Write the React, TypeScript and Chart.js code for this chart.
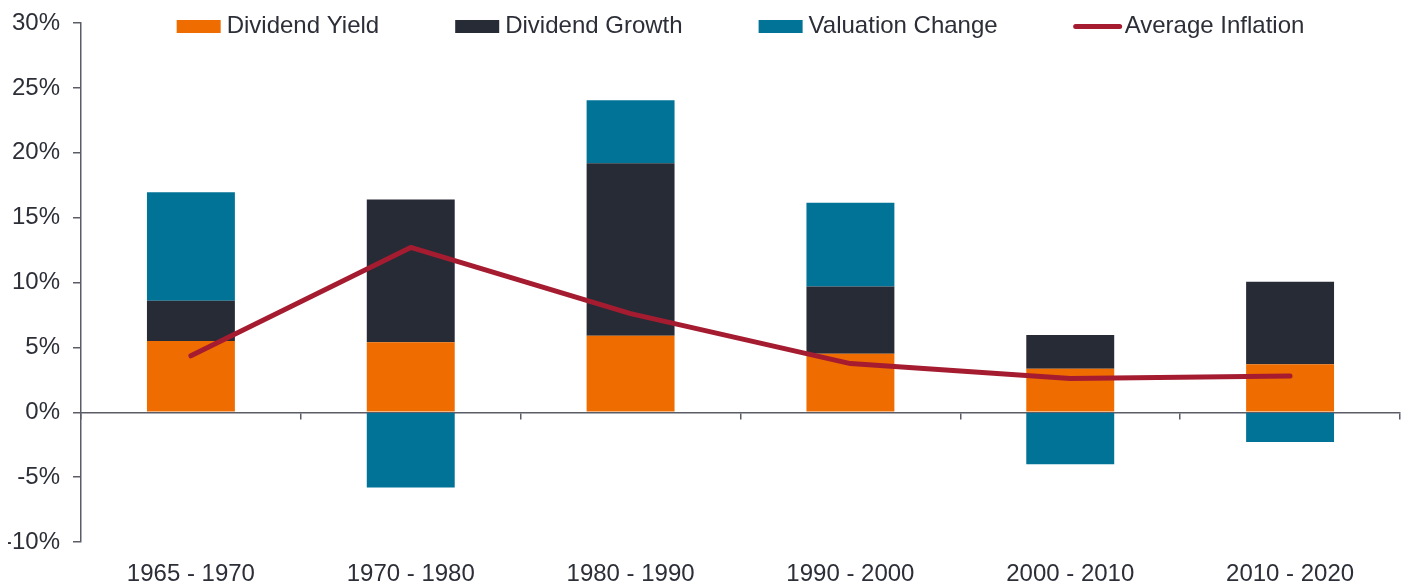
import React, { useEffect, useRef } from 'react';
import { Chart, registerables } from 'chart.js';

Chart.register(...registerables);

const categories = ['1965 - 1970', '1970 - 1980', '1980 - 1990', '1990 - 2000', '2000 - 2010', '2010 - 2020'];
const dividendYield = [5.5, 5.4, 5.9, 4.5, 3.35, 3.7];
const dividendGrowth = [3.1, 11.0, 13.3, 5.2, 2.6, 6.35];
const valuationChange = [8.35, -5.8, 4.85, 6.45, -4.0, -2.3];
const averageInflation = [4.35, 12.7, 7.6, 3.75, 2.6, 2.8];
const yMin = -10;
const yMax = 30;
const yStep = 5;

const FONT = '"Liberation Sans", Arial, sans-serif';
const TEXT = '#2c2e38';
const AXIS = '#5a5d66';
const ORANGE = '#EF6C00';
const DARK = '#272B36';
const TEAL = '#007396';
const RED = '#A51C30';

const legendPlugin = {
  id: 'customLegend',
  afterDraw(chart: any) {
    const ctx = chart.ctx as CanvasRenderingContext2D;
    const { left, right } = chart.chartArea;
    ctx.save();
    ctx.font = `24px ${FONT}`;
    const items = chart.data.datasets.map((ds: any) => ({
      label: ds.label as string,
      color: ds.type === 'line' ? ds.borderColor : ds.backgroundColor,
      isLine: ds.type === 'line',
    }));
    const markW = (it: any) => (it.isLine ? 48 : 44);
    const markGap = (it: any) => (it.isLine ? 3 : 6);
    const widths = items.map((it: any) => markW(it) + markGap(it) + ctx.measureText(it.label).width);
    const itemGap = 76;
    const total = widths.reduce((a: number, b: number) => a + b, 0) + itemGap * (items.length - 1);
    let x = (left + right) / 2 - total / 2;
    const boxTop = 12;
    const boxH = 13;
    const baseline = 25;
    items.forEach((it: any, i: number) => {
      if (it.isLine) {
        ctx.strokeStyle = it.color;
        ctx.lineWidth = 5;
        ctx.lineCap = 'round';
        ctx.beginPath();
        ctx.moveTo(x + 2, boxTop + boxH / 2);
        ctx.lineTo(x + markW(it) - 2, boxTop + boxH / 2);
        ctx.stroke();
      } else {
        ctx.fillStyle = it.color;
        ctx.fillRect(x, boxTop, markW(it), boxH);
      }
      ctx.fillStyle = TEXT;
      ctx.textBaseline = 'alphabetic';
      ctx.textAlign = 'left';
      ctx.fillText(it.label, x + markW(it) + markGap(it), baseline);
      x += widths[i] + itemGap;
    });
    ctx.restore();
  },
};

export default function App() {
  const canvasRef = useRef<HTMLCanvasElement | null>(null);

  useEffect(() => {
    if (!canvasRef.current) return;
    const chart = new Chart(canvasRef.current, {
      type: 'bar',
      data: {
        labels: categories,
        datasets: [
          {
            type: 'bar',
            label: 'Dividend Yield',
            data: dividendYield,
            backgroundColor: ORANGE,
            borderWidth: 0,
            barPercentage: 0.4,
            categoryPercentage: 1,
            order: 1,
          },
          {
            type: 'bar',
            label: 'Dividend Growth',
            data: dividendGrowth,
            backgroundColor: DARK,
            borderWidth: 0,
            barPercentage: 0.4,
            categoryPercentage: 1,
            order: 1,
          },
          {
            type: 'bar',
            label: 'Valuation Change',
            data: valuationChange,
            backgroundColor: TEAL,
            borderWidth: 0,
            barPercentage: 0.4,
            categoryPercentage: 1,
            order: 1,
          },
          {
            type: 'line',
            label: 'Average Inflation',
            data: averageInflation,
            borderColor: RED,
            backgroundColor: RED,
            borderWidth: 5,
            pointRadius: 0,
            tension: 0,
            borderCapStyle: 'round',
            borderJoinStyle: 'round',
            stack: 'inflation',
            order: 0,
          } as any,
        ],
      },
      options: {
        animation: false,
        responsive: true,
        maintainAspectRatio: false,
        events: [],
        layout: { padding: { top: 15, right: 2, left: 0, bottom: 0 } },
        plugins: {
          legend: { display: false },
          tooltip: { enabled: false },
        },
        scales: {
          x: {
            type: 'category',
            position: 'bottom',
            stacked: true,
            offset: true,
            grid: { display: false },
            border: { display: false },
            ticks: {
              font: { size: 24, family: FONT },
              color: TEXT,
              padding: 10,
              maxRotation: 0,
              autoSkip: false,
            },
            afterFit: (s: any) => {
              s.height = 39;
            },
          },
          x2: {
            type: 'category',
            labels: categories,
            position: { y: 0 },
            offset: true,
            grid: {
              offset: true,
              drawOnChartArea: false,
              drawTicks: true,
              tickLength: 6,
              color: AXIS,
              lineWidth: 1.5,
            },
            border: { display: true, color: AXIS, width: 1.5 },
            ticks: { display: false },
          },
          y: {
            stacked: true,
            min: yMin,
            max: yMax,
            ticks: {
              stepSize: yStep,
              callback: (v: any) => `${v}%`,
              font: { size: 24, family: FONT },
              color: TEXT,
              padding: 13,
            },
            grid: {
              drawOnChartArea: false,
              drawTicks: true,
              tickLength: 8,
              color: AXIS,
              lineWidth: 1.5,
            },
            border: { display: true, color: AXIS, width: 1.5 },
            afterFit: (s: any) => {
              s.width = 73;
              s.paddingTop = 0;
              s.paddingBottom = 0;
            },
          },
        } as any,
      },
      plugins: [legendPlugin],
    });
    return () => chart.destroy();
  }, []);

  return (
    <div style={{ width: 1394, height: 573, position: 'relative' }}>
      <canvas ref={canvasRef} />
    </div>
  );
}
